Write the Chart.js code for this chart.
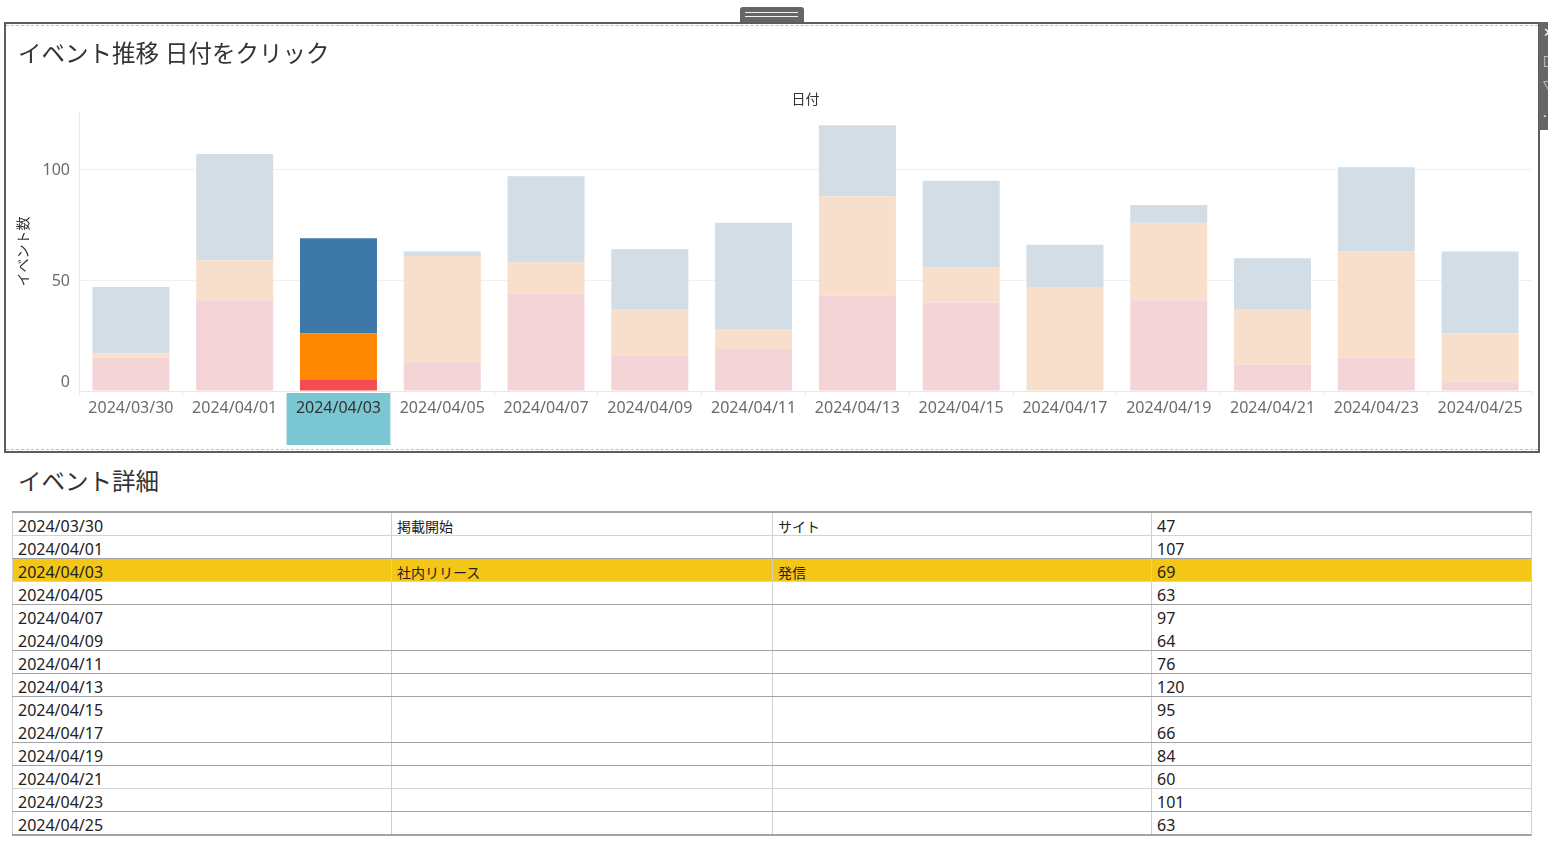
<!DOCTYPE html>
<html lang="ja">
<head>
<meta charset="utf-8">
<title>イベント推移</title>
<script src="https://cdn.jsdelivr.net/npm/chart.js@4.4.1/dist/chart.umd.min.js"></script>
<style>
  body { margin: 0; background: #fff; width: 1548px; height: 846px; overflow: hidden; position: relative;
         font-family: 'Noto Sans', 'Noto Sans CJK JP', sans-serif; color: #222; }
  #tab { position: absolute; left: 740px; top: 7px; width: 64px; height: 16px; background: #666; border-radius: 3px 3px 0 0; }
  #tab::before, #tab::after { content: ''; position: absolute; left: 5px; right: 6px; height: 1px; background: #f2f2f2; }
  #tab::before { top: 5px; }
  #tab::after { top: 9px; }
  #panel { position: absolute; left: 4px; top: 22px; width: 1532px; height: 427px; border: 2px solid #5c5c5c; }
  #panel .dash { position: absolute; left: 0; right: 0; height: 0; border-top: 1px dashed #b3c4da; pointer-events: none; }
  #tools { position: absolute; left: 1539px; top: 22px; width: 9px; height: 108px; background: #666; overflow: hidden;
           color: #fff; font-size: 13px; line-height: 13px; }
  #tools span { position: absolute; left: 4px; }
  #detailTitle { position: absolute; left: 18px; top: 465px; font-size: 23.5px; line-height: 30px; color: #333;
                 font-family: 'Noto Sans CJK JP', sans-serif; }
  #detail { position: absolute; left: 12px; top: 511px; width: 1520px; box-sizing: border-box;
            border-top: 2px solid #a3a3a3; border-bottom: 1px solid #a3a3a3; border-right: 1px solid #cfcfcf; }
  .row { display: flex; height: 23px; box-sizing: border-box; }
  .row.light { border-bottom: 1px solid #d3d3d3; }
  .row.dark { border-bottom: 1px solid #a3a3a3; }
  .row.sel { background: #f4c615; }
  .cell { box-sizing: border-box; border-left: 1px solid #cfcfcf; padding: 3px 0 0 5px; font-size: 16px; line-height: 20px; white-space: nowrap; }
  .cell.ja { font-size: 14px; font-family: 'Noto Sans CJK JP', sans-serif; }
</style>
</head>
<body>
<div id="tab"></div>
<div id="panel">
  <canvas id="trend" width="1532" height="427"></canvas>
  <div class="dash" style="top:1px"></div>
  <div class="dash" style="bottom:1px"></div>
</div>
<div id="tools"><span style="top:4px">✕</span><span style="top:33px">□</span><span style="top:58px">▽</span><span style="top:88px">·</span></div>
<div id="detailTitle">イベント詳細</div>
<div id="detail"></div>

<script>
const dates = ['2024/03/30', '2024/04/01', '2024/04/03', '2024/04/05', '2024/04/07', '2024/04/09', '2024/04/11',
  '2024/04/13', '2024/04/15', '2024/04/17', '2024/04/19', '2024/04/21', '2024/04/23', '2024/04/25'];
const seriesPink = [15, 41, 5, 13, 44, 16, 19, 43, 40, 0, 41, 12, 15, 4];
const seriesPeach = [2, 18, 21, 48, 14, 21, 9, 45, 16, 47, 35, 25, 48, 22];
const seriesBlue = [30, 48, 43, 2, 39, 27, 48, 32, 39, 19, 8, 23, 38, 37];
const totals = [47, 107, 69, 63, 97, 64, 76, 120, 95, 66, 84, 60, 101, 63];
const eventNames = ['掲載開始', '', '社内リリース', '', '', '', '', '', '', '', '', '', '', ''];
const eventTypes = ['サイト', '', '発信', '', '', '', '', '', '', '', '', '', '', ''];
const yTickValues = [0, 50, 100];
const yMax = 126;
const selectedIndex = 2;

// pale colour, highlighted colour
const pink = ['#f5d4d8', '#f44c54'];
const peach = ['#f8dfcb', '#fe8900'];
const blue = ['#d2dde6', '#3e78a9'];
const colorsFor = (pair) => dates.map((d, i) => (i === selectedIndex ? pair[1] : pair[0]));

const FONT = "'Noto Sans', 'Noto Sans CJK JP', sans-serif";
Chart.defaults.font.family = FONT;

const selectedLabelBox = {
  id: 'selectedLabelBox',
  beforeDraw(chart) {
    const { ctx, chartArea, scales: { x } } = chart;
    const w = chartArea.width / dates.length;
    const cx = x.getPixelForValue(selectedIndex);
    ctx.save();
    ctx.fillStyle = '#7bc6d3';
    ctx.fillRect(cx - w / 2, chartArea.bottom + 2, w, 52);
    ctx.restore();
  },
};

// Tableau-style y labels: the zero label sits a little above its line
const yLabels = {
  id: 'yLabels',
  afterDraw(chart) {
    const { ctx, chartArea, scales: { y } } = chart;
    ctx.save();
    ctx.font = `16px ${FONT}`;
    ctx.fillStyle = '#6b6b6b';
    ctx.textAlign = 'right';
    ctx.textBaseline = 'middle';
    yTickValues.forEach((v) => {
      let py = y.getPixelForValue(v) + 1;
      if (v === 0) py -= 10;
      ctx.fillText(String(v), chartArea.left - 9, py);
    });
    ctx.restore();
  },
};

new Chart(document.getElementById('trend'), {
  type: 'bar',
  data: {
    labels: dates,
    datasets: [
      { label: 'ピンク', data: seriesPink, backgroundColor: colorsFor(pink) },
      { label: 'オレンジ', data: seriesPeach, backgroundColor: colorsFor(peach) },
      { label: 'ブルー', data: seriesBlue, backgroundColor: colorsFor(blue) },
    ],
  },
  options: {
    animation: false,
    responsive: false,
    maintainAspectRatio: false,
    layout: { padding: { left: 12, right: 6, top: 0, bottom: 0 } },
    datasets: { bar: { categoryPercentage: 1, barPercentage: 0.742 } },
    plugins: {
      legend: { display: false },
      tooltip: { enabled: false },
      title: {
        display: true,
        text: 'イベント推移 日付をクリック',
        align: 'start',
        color: '#333',
        font: { size: 23.5, weight: 'normal' },
        padding: { top: 17, bottom: 0 },
      },
    },
    scales: {
      x: {
        stacked: true,
        grid: { drawOnChartArea: false, drawTicks: true, tickLength: 4, color: '#e6e6e6' },
        border: { display: true, color: '#e8e8e8' },
        ticks: {
          padding: 4,
          autoSkip: false,
          maxRotation: 0,
          color: (c) => (c.index === selectedIndex ? '#333' : '#6b6b6b'),
          font: { size: 16 },
        },
        afterFit: (s) => { s.height = 60; },
      },
      x2: {
        type: 'category',
        labels: dates,
        position: 'top',
        grid: { display: false },
        border: { display: false },
        ticks: { display: false },
        title: { display: true, text: '日付', color: '#333', font: { size: 14 }, padding: { top: 22.4, bottom: 0 } },
        afterFit: (s) => { s.height = 42.8; },
      },
      y: {
        stacked: true,
        min: 0,
        max: yMax,
        afterBuildTicks: (s) => { s.ticks = yTickValues.map((v) => ({ value: v })); },
        grid: { color: '#f0f0f0', drawTicks: false },
        border: { display: true, color: '#e8e8e8' },
        ticks: { display: false },
        title: { display: true, text: 'イベント数', color: '#333', font: { size: 14 }, padding: { top: -2.4, bottom: 0 } },
        afterFit: (s) => { s.width = 61; },
      },
    },
  },
  plugins: [selectedLabelBox, yLabels],
});

// detail table below the chart
const rowRules = ['light', 'dark', 'light', 'dark', '', 'dark', 'dark', 'dark', '', 'dark', 'dark', 'light', 'dark', 'dark'];
const colWidths = [379, 381, 379, 380];
const detail = document.getElementById('detail');
dates.forEach((d, i) => {
  const row = document.createElement('div');
  row.className = `row ${rowRules[i]}${i === selectedIndex ? ' sel' : ''}`;
  [d, eventNames[i], eventTypes[i], String(totals[i])].forEach((text, c) => {
    const cell = document.createElement('div');
    cell.className = (c === 1 || c === 2) ? 'cell ja' : 'cell';
    cell.style.width = `${colWidths[c]}px`;
    cell.textContent = text;
    row.appendChild(cell);
  });
  detail.appendChild(row);
});
</script>
</body>
</html>
